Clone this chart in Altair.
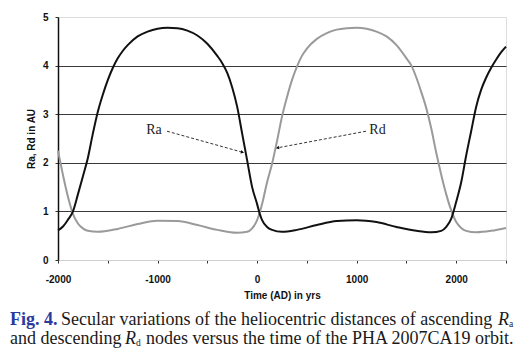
import altair as alt
import pandas as pd

# ---- data ----
ra_years = [-2000, -1950, -1900, -1850, -1800, -1750, -1700, -1650, -1600, -1550, -1500, -1450,
            -1400, -1350, -1300, -1200, -1100, -1000, -900, -800, -700, -600, -500, -400, -350,
            -300, -250, -200, -150, -100, -50, 0, 25, 50, 100, 150, 250, 400, 600, 800, 1000,
            1200, 1400, 1600, 1750, 1850, 1900, 1950, 2000, 2050, 2100, 2150, 2200, 2250, 2300,
            2350, 2400, 2450, 2500]
ra_values = [0.61, 0.69, 0.83, 1.0, 1.35, 1.72, 2.1, 2.6, 3.05, 3.4, 3.7, 3.95,
             4.15, 4.3, 4.42, 4.6, 4.7, 4.76, 4.78, 4.77, 4.72, 4.62, 4.45, 4.2, 4.05,
             3.85, 3.55, 3.15, 2.6, 2.05, 1.5, 1.15, 0.96, 0.82, 0.68, 0.62, 0.58, 0.62, 0.72, 0.8, 0.82,
             0.78, 0.68, 0.6, 0.57, 0.6, 0.68, 0.85, 1.2, 1.6, 2.15, 2.65, 3.15, 3.5, 3.75,
             3.95, 4.12, 4.27, 4.39]

rd_years = [-2000, -1950, -1900, -1850, -1800, -1750, -1700, -1600, -1400, -1200, -1000, -800,
            -600, -400, -200, -100, -50, 0, 50, 100, 150, 200, 250, 300, 350, 400, 450, 500,
            600, 700, 800, 900, 1000, 1100, 1200, 1300, 1400, 1500, 1550, 1600, 1650, 1700,
            1750, 1800, 1850, 1900, 1950, 2000, 2050, 2100, 2200, 2350, 2500]
rd_values = [2.25, 1.75, 1.3, 0.95, 0.75, 0.65, 0.6, 0.58, 0.64, 0.74, 0.81, 0.8,
             0.72, 0.62, 0.56, 0.58, 0.65, 0.82, 1.15, 1.6, 1.98, 2.45, 2.95, 3.35, 3.7, 3.98, 4.2, 4.35,
             4.55, 4.67, 4.74, 4.77, 4.78, 4.76, 4.7, 4.6, 4.42, 4.15, 4.0, 3.75, 3.45, 3.12,
             2.7, 2.2, 1.75, 1.35, 1.02, 0.78, 0.66, 0.6, 0.57, 0.6, 0.66]

label_text = ["Ra", "Rd"]
label_year = [-1036, 1209]
label_value = [2.67, 2.67]
arrow_year_from = [-905, 1094]
arrow_value_from = [2.65, 2.65]
arrow_year_to = [-152, 210]
arrow_value_to = [2.22, 2.31]

x_ticks = [-2000, -1500, -1000, -500, 0, 500, 1000, 1500, 2000, 2500]
y_ticks = [0, 1, 2, 3, 4, 5]

cap1_fig = "Fig. 4."
cap1_text = "Secular variations of the heliocentric distances of ascending"
cap2_text_a = "and descending"
cap2_text_b = "nodes versus the time of the PHA 2007CA19 orbit."

# ---- tables ----
ra_df = pd.DataFrame({"year": ra_years, "value": ra_values, "series": "Ra"})
rd_df = pd.DataFrame({"year": rd_years, "value": rd_values, "series": "Rd"})
lab_df = pd.DataFrame({"text": label_text, "year": label_year, "value": label_value})
arr_df = pd.DataFrame({"year": arrow_year_from, "value": arrow_value_from,
                       "year2": arrow_year_to, "value2": arrow_value_to,
                       "angle": [105.6, 259.4]})

xscale = alt.Scale(domain=[-2000, 2500], nice=False, zero=False)
yscale = alt.Scale(domain=[0, 5], nice=False)

x_axis = alt.Axis(values=x_ticks, labelExpr="datum.value % 1000 == 0 ? '' + datum.value : ''",
                  title="Time (AD) in yrs", grid=False, domainColor="#cfcfcf", domainWidth=1,
                  tickColor="#333333", tickSize=3, labelPadding=11, titlePadding=6,
                  labelFlush=False, labelOverlap=False,
                  labelFont="Liberation Sans", labelFontWeight="bold", labelFontSize=10,
                  titleFont="Liberation Sans", titleFontWeight="bold", titleFontSize=10,
                  labelColor="#111111", titleColor="#111111")
y_axis = alt.Axis(values=y_ticks, format="d", title="Ra, Rd in AU", grid=True,
                  gridColor=alt.condition("datum.value == 0 || datum.value == 5",
                                          alt.value("transparent"), alt.value("#3a3a3a")),
                  gridWidth=1.2, domainColor="#111111", domainWidth=1.5,
                  tickColor="#333333", tickSize=3, labelPadding=7, titlePadding=6,
                  labelFlush=False,
                  labelFont="Liberation Sans", labelFontWeight="bold", labelFontSize=10,
                  titleFont="Liberation Sans", titleFontWeight="bold", titleFontSize=10,
                  labelColor="#111111", titleColor="#111111")

rd_line = alt.Chart(rd_df).mark_line(interpolate="monotone", color="#9a9a9a", strokeWidth=2).encode(
    x=alt.X("year:Q", scale=xscale, axis=x_axis),
    y=alt.Y("value:Q", scale=yscale, axis=y_axis),
)
ra_line = alt.Chart(ra_df).mark_line(interpolate="monotone", color="#111111", strokeWidth=2).encode(
    x=alt.X("year:Q", scale=xscale),
    y=alt.Y("value:Q", scale=yscale),
)

arrows = alt.Chart(arr_df).mark_rule(color="#333333", strokeWidth=1, strokeDash=[3, 2]).encode(
    x=alt.X("year:Q", scale=xscale), y=alt.Y("value:Q", scale=yscale),
    x2="year2:Q", y2="value2:Q",
)
heads = alt.Chart(arr_df).mark_point(shape="triangle", filled=True, color="#111111", size=14,
                                     opacity=1).encode(
    x=alt.X("year2:Q", scale=xscale), y=alt.Y("value2:Q", scale=yscale),
    angle=alt.Angle("angle:Q", scale=None),
)
labels = alt.Chart(lab_df).mark_text(font="Liberation Serif", fontSize=14, color="#222222",
                                     baseline="middle").encode(
    x=alt.X("year:Q", scale=xscale), y=alt.Y("value:Q", scale=yscale), text="text:N",
)


def cap(text, x, y, size=18, weight="normal", style="normal", color="#1a1a1a", align="left"):
    return alt.Chart(pd.DataFrame({"t": [text]})).mark_text(
        font="Liberation Serif", fontSize=size, fontWeight=weight, fontStyle=style,
        color=color, align=align, baseline="alphabetic"
    ).encode(x=alt.value(x), y=alt.value(y), text="t:N")


captions = [
    cap(cap1_fig, -48, 308, weight="bold", color="#2b3a9c"),
    cap(cap1_text, 3, 308),
    cap("R", 440, 308, style="italic"),
    cap("a", 451, 310, size=9.5),
    cap(cap2_text_a, -48, 327),
    cap("R", 67, 327, style="italic"),
    cap("d", 78, 329, size=9.5),
    cap(cap2_text_b, 88, 327),
]

chart = alt.layer(rd_line, ra_line, arrows, heads, labels, *captions).properties(
    width=448, height=243,
    autosize=alt.AutoSizeParams(type="none"),
    padding={"left": 50, "top": 9, "right": 17, "bottom": 95},
).configure_view(stroke="#d9d9d9", strokeWidth=1).configure(background="white")

chart.save("out.html", embed_options={"renderer": "svg", "actions": False})
